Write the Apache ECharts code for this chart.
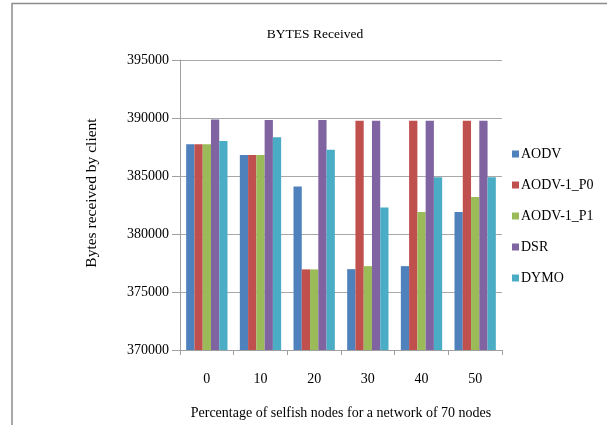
<!DOCTYPE html>
<html>
<head>
<meta charset="utf-8">
<script src="https://cdn.jsdelivr.net/npm/echarts@6/dist/echarts.min.js"></script>
<style>
  html, body { margin: 0; padding: 0; background: #ffffff; }
  #chart { width: 607px; height: 425px; }
</style>
</head>
<body>
<div id="chart"></div>
<script>
// Percentage of selfish nodes (x categories)
const categories = ['0', '10', '20', '30', '40', '50'];

// Bytes received by client for each protocol
const aodv   = [387730, 386810, 384090, 376970, 377230, 381900];
const aodvP0 = [387730, 386810, 376950, 389770, 389770, 389770];
const aodvP1 = [387730, 386810, 376950, 377230, 381900, 383180];
const dsr    = [389880, 389830, 389830, 389770, 389770, 389770];
const dymo   = [388010, 388350, 387270, 382290, 384900, 384900];

const seriesNames = ['AODV', 'AODV-1_P0', 'AODV-1_P1', 'DSR', 'DYMO'];
const seriesValues = [aodv, aodvP0, aodvP1, dsr, dymo];
const colors = ['#4F81BD', '#C0504D', '#9BBB59', '#8064A2', '#4BACC6'];

const serif = '"Liberation Serif", "DejaVu Serif", serif';

const chart = echarts.init(document.getElementById('chart'));

chart.setOption({
  backgroundColor: '#ffffff',
  animation: false,
  color: colors,
  title: {
    text: 'BYTES Received',
    left: 310,
    textAlign: 'center',
    top: 22,
    textStyle: { fontFamily: serif, fontSize: 13.5, fontWeight: 'normal', color: '#000' }
  },
  legend: {
    orient: 'vertical',
    left: 507,
    top: 141,
    itemWidth: 7,
    itemHeight: 7,
    itemGap: 15,
    icon: 'rect',
    textStyle: { fontFamily: serif, fontSize: 14, color: '#000', padding: [0, 0, 0, -3], lineHeight: 16 },
    data: seriesNames
  },
  grid: { left: 180, right: 105, top: 60, bottom: 74 },
  xAxis: {
    type: 'category',
    data: categories,
    name: 'Percentage of selfish nodes for a network of 70 nodes',
    nameLocation: 'middle',
    nameGap: 56,
    nameTextStyle: { fontFamily: serif, fontSize: 14, color: '#000' },
    axisLine: { lineStyle: { color: '#a0a0a0', width: 1 } },
    axisTick: { show: true, length: 5, lineStyle: { color: '#a0a0a0' } },
    axisLabel: { fontFamily: serif, fontSize: 14, color: '#000', margin: 22 }
  },
  yAxis: {
    type: 'value',
    min: 370000,
    max: 395000,
    interval: 5000,
    axisLine: { show: true, lineStyle: { color: '#a0a0a0', width: 1 } },
    axisTick: { show: true, length: 8, lineStyle: { color: '#a0a0a0' } },
    axisLabel: {
      fontFamily: serif, fontSize: 14, color: '#000', margin: 11,
      formatter: v => String(v)
    },
    splitLine: { lineStyle: { color: '#a8a8a8', width: 1 } }
  },
  graphic: [
    {
      type: 'polyline',
      shape: { points: [[12, 425], [12, 3.5], [607, 3.5]] },
      style: { stroke: '#8c8c8c', lineWidth: 1.5, fill: null }
    },
    {
      type: 'text',
      x: 92,
      y: 193,
      rotation: Math.PI / 2,
      style: {
        text: 'Bytes received by client',
        font: '15.5px ' + serif,
        fill: '#000',
        textAlign: 'center',
        textVerticalAlign: 'middle'
      }
    }
  ],
  series: seriesNames.map((name, i) => ({
    name: name,
    type: 'bar',
    data: seriesValues[i],
    barGap: '0%',
    barCategoryGap: '23%',
    itemStyle: { color: colors[i] }
  }))
});
</script>
</body>
</html>
